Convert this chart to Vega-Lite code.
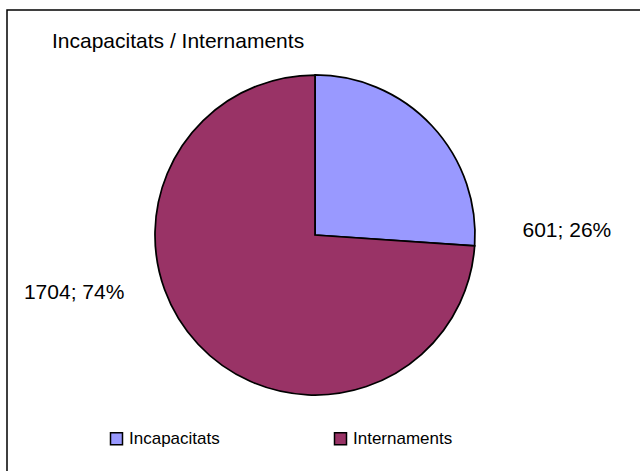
{
  "$schema": "https://vega.github.io/schema/vega-lite/v6.json",
  "width": 640,
  "height": 470,
  "autosize": {"type": "none"},
  "padding": {"left": 7, "top": 10, "right": 0, "bottom": 0},
  "background": "white",
  "title": {
    "text": "Incapacitats / Internaments",
    "anchor": "start",
    "frame": "group",
    "offset": -59,
    "dx": 45,
    "baseline": "alphabetic",
    "font": "Liberation Sans",
    "fontSize": 21,
    "fontWeight": "normal",
    "color": "black"
  },
  "config": {
    "view": {"stroke": "black", "strokeWidth": 1.5},
    "font": "Liberation Sans"
  },
  "data": {
    "values": [
      {"category": "Incapacitats", "value": 601},
      {"category": "Internaments", "value": 1704}
    ]
  },
  "transform": [
    {"joinaggregate": [{"op": "sum", "field": "value", "as": "total"}]},
    {"calculate": "datum.value + '; ' + format(datum.value / datum.total, '.0%')", "as": "label"}
  ],
  "encoding": {
    "theta": {"field": "value", "type": "quantitative", "stack": true},
    "order": {"field": "category", "type": "nominal", "sort": "ascending"},
    "x": {"datum": 0, "type": "quantitative", "scale": {"domain": [-308, 332], "nice": false, "zero": false}, "axis": null},
    "y": {"datum": 0, "type": "quantitative", "scale": {"domain": [-245, 225], "nice": false, "zero": false}, "axis": null}
  },
  "layer": [
    {
      "mark": {"type": "arc", "radius": 160, "stroke": "black", "strokeWidth": 1.75},
      "encoding": {
        "color": {
          "field": "category",
          "type": "nominal",
          "scale": {"domain": ["Incapacitats", "Internaments"], "range": ["#9999FF", "#993366"]},
          "legend": {
            "orient": "none",
            "legendX": 101,
            "legendY": 420,
            "direction": "horizontal",
            "title": null,
            "symbolType": "square",
            "symbolSize": 144,
            "symbolStrokeColor": "black",
            "symbolStrokeWidth": 1.5,
            "labelFontSize": 17,
            "labelFont": "Liberation Sans",
            "labelColor": "black",
            "labelOffset": 4,
            "columnPadding": 111,
            "padding": 0
          }
        }
      }
    },
    {
      "mark": {"type": "text", "radius": 160, "dx": 135, "dy": 105, "fontSize": 21, "align": "center", "baseline": "middle", "color": "black", "font": "Liberation Sans"},
      "encoding": {
        "text": {"condition": {"test": "datum.category === 'Incapacitats'", "field": "label"}, "value": ""}
      }
    },
    {
      "mark": {"type": "text", "radius": 160, "dx": -124, "dy": -51.5, "fontSize": 21, "align": "center", "baseline": "middle", "color": "black", "font": "Liberation Sans"},
      "encoding": {
        "text": {"condition": {"test": "datum.category === 'Internaments'", "field": "label"}, "value": ""}
      }
    }
  ]
}
